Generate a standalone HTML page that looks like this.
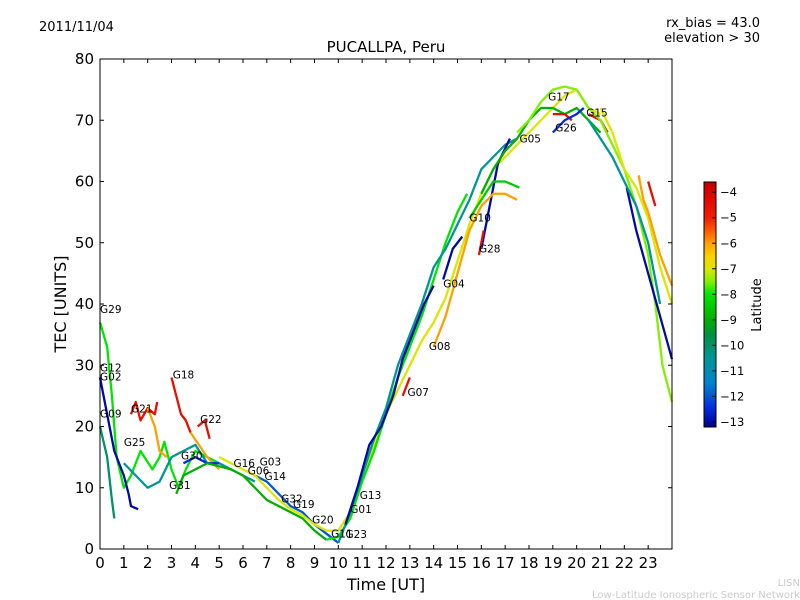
<!DOCTYPE html>
<html><head><meta charset="utf-8"><style>
body{margin:0;background:#fff;font-family:"DejaVu Sans","Liberation Sans",sans-serif}
svg{display:block}
</style></head><body>
<svg id="c" width="800" height="600" xmlns="http://www.w3.org/2000/svg">
<text x="39" y="31" font-size="13">2011/11/04</text>
<text x="760" y="27" font-size="13" text-anchor="end">rx_bias = 43.0</text>
<text x="760" y="42" font-size="13" text-anchor="end">elevation &gt; 30</text>
<text x="386" y="52" font-size="15" text-anchor="middle">PUCALLPA, Peru</text>
<text x="386" y="590" font-size="16" text-anchor="middle">Time [UT]</text>
<text x="66" y="304" font-size="16" text-anchor="middle" transform="rotate(-90 66 304)">TEC [UNITS]</text>
<text x="800" y="586" font-size="10" fill="#ccc" text-anchor="end">LISN</text>
<text x="800" y="598" font-size="10" fill="#ccc" text-anchor="end">Low-Latitude Ionospheric Sensor Network</text>
<g id="plot"></g>
<g id="ax"></g>
<g id="cb"></g>
</svg>
<script>
const xTicks=[0,1,2,3,4,5,6,7,8,9,10,11,12,13,14,15,16,17,18,19,20,21,22,23];
const yTicks=[0,10,20,30,40,50,60,70,80];
const cbTicks=[-4,-5,-6,-7,-8,-9,-10,-11,-12,-13];
const segLats=[-8,-13,-10,-10.5,-4.5,-6,-4.5,-6,-4.5,-12.5,-9,-12,-7,-8,-10.5,-13,-13,-13,-4.5,-6,-4.5,-8.5,-9,-4.5,-12.5,-4.5,-7.5,-7,-13,-10.5,-6,-4.5];
const segPts=[
[[0,37],[0.3,33],[0.5,25],[0.7,15],[1,10],[1.3,12],[1.7,16],[2.2,13],[2.5,15],[2.7,17.5],[3,13],[3.3,10],[3.6,13],[4,16],[4.5,15],[5,14]],
[[0,28],[0.3,22],[0.6,16],[1,12],[1.2,9],[1.3,7],[1.6,6.5]],
[[0,20],[0.3,15],[0.5,8],[0.6,5]],
[[1,14],[1.5,12],[2,10],[2.5,11],[3,15],[3.5,16],[4,17],[4.5,14],[5,14],[5.5,13],[6,12],[6.5,11]],
[[1.3,22],[1.5,24],[1.7,21],[2,23],[2.3,22],[2.4,24]],
[[2,23],[2.3,20],[2.5,16],[2.8,15]],
[[3,28],[3.2,25],[3.4,22],[3.6,21],[3.8,19]],
[[3.8,19],[4.5,15],[5,13]],
[[4.1,20],[4.4,21],[4.6,18]],
[[3.5,14],[4,15],[4.5,14],[5,14]],
[[3.2,9],[3.5,12],[4,13],[4.5,14],[5,13.5],[5.5,13],[6,12],[6.5,10],[7,8],[7.5,7],[8,6],[8.5,5],[9,3],[9.5,1.5]],
[[6.5,12],[7,11],[7.5,9],[8,7],[8.5,6],[9,4],[9.5,2.5],[10,1]],
[[5,15],[5.5,14],[6,13],[6.5,12],[7,10],[7.5,8],[8,6.5],[8.5,5.5],[9,4],[9.5,3],[10,3],[10.5,6],[11,12],[11.5,17],[12,22],[12.5,26],[13,30],[13.5,34],[14,37],[14.5,41],[15,47],[15.5,53],[16,58],[16.5,62],[17,64],[17.5,66],[18,68],[18.5,70],[19,72],[19.5,74],[20,75],[20.5,72],[21,71]],
[[9.5,1.5],[10,2],[10.5,5],[11,11],[11.5,16],[12,22],[12.5,28],[13,33],[13.5,38],[14,44],[14.5,50],[15,55],[15.4,58]],
[[10,1],[10.5,6],[11,12],[11.5,18],[12,23],[12.5,30],[13,35],[13.5,40],[14,46],[14.5,49],[15,53],[15.5,57],[16,62],[16.5,64],[17,66],[17.5,67]],
[[10.3,4],[10.8,10],[11.3,17],[11.8,20],[12.3,25],[12.7,31],[13.2,36],[13.6,40],[14,43]],
[[14.4,44],[14.8,49],[15.2,51]],
[[16,49],[16.3,55],[16.7,63],[17.2,67]],
[[15.9,48],[16.1,52]],
[[14,33],[14.5,38],[15,45],[15.5,52],[16,56],[16.5,58],[17,58],[17.5,57]],
[[12.7,25],[13,28]],
[[15.5,54],[16,57],[16.5,60],[17,60],[17.6,59]],
[[16,58],[16.5,62],[17,65],[17.5,67],[18,70],[18.5,72],[19,72],[19.5,71],[20,72],[20.5,70],[21,68]],
[[19,71],[19.5,71],[19.8,70]],
[[19,68],[19.5,70],[20,71],[20.3,72]],
[[20.5,71],[21,70],[21.3,68]],
[[17.5,68],[18,70],[18.5,73],[19,75],[19.5,75.5],[20,75],[20.5,72],[21,70],[21.5,66],[22,62],[22.5,56],[23,48],[23.3,40],[23.6,30],[24,24]],
[[21,72],[21.5,68],[22,62],[22.5,59],[23,54],[23.5,46],[24,40]],
[[22.1,59],[22.5,52],[23,45],[23.5,38],[24,31]],
[[20.5,70],[21,67],[21.5,64],[22,60],[22.5,56],[23,50],[23.5,40]],
[[22.6,61],[22.8,57],[23,55],[23.5,48],[24,43]],
[[23,60],[23.3,56]]];
const labelNames=["G29","G12","G02","G09","G21","G25","G18","G22","G30","G31","G16","G06","G03","G14","G32","G19","G20","G11","G23","G01","G13","G07","G08","G04","G10","G28","G05","G17","G26","G15"];
const labelT=[0,0,0,0,1.3,1.0,3.05,4.2,3.4,2.9,5.6,6.2,6.7,6.9,7.6,8.1,8.9,9.7,10.3,10.5,10.9,12.9,13.8,14.4,15.5,15.9,17.6,18.8,19.1,20.4];
const labelV=[38.5,29,27.5,21.5,22.3,16.8,27.8,20.6,14.6,9.8,13.4,12.2,13.6,11.3,7.6,6.7,4.2,1.9,1.8,5.9,8.2,25,32.5,42.7,53.5,48.4,66.4,73.2,68.2,70.6];

const X0=100,X1=672,Y0=549,Y1=59;
const sx=t=>X0+(X1-X0)*t/24, sy=v=>Y0-(Y0-Y1)*v/80;
const CB0=-13.2,CB1=-3.6,CBY0=427,CBY1=182;
const cy=l=>CBY0-(CBY0-CBY1)*(l-CB0)/(CB1-CB0);
const stops=[[-13.2,[0,0,140]],[-12.5,[0,40,220]],[-11.5,[0,130,210]],[-10.5,[0,150,150]],[-9.6,[0,145,70]],[-9,[0,175,0]],[-8,[0,230,0]],[-7.5,[130,240,0]],[-7,[220,230,0]],[-6.5,[250,210,0]],[-6,[255,160,0]],[-5.5,[255,90,0]],[-5,[240,30,0]],[-4,[220,0,0]],[-3.6,[190,0,0]]];
function col(l){if(l<=stops[0][0])return`rgb(${stops[0][1]})`;for(let i=1;i<stops.length;i++){if(l<=stops[i][0]){const a=stops[i-1],b=stops[i],f=(l-a[0])/(b[0]-a[0]);return'rgb('+a[1].map((v,k)=>Math.round(v+(b[1][k]-v)*f)).join(',')+')';}}return`rgb(${stops[stops.length-1][1]})`;}
const NS="http://www.w3.org/2000/svg";
function mk(p,tag,a){const e=document.createElementNS(NS,tag);for(const k in a)e.setAttribute(k,a[k]);p.appendChild(e);return e;}
const plot=document.getElementById('plot'),ax=document.getElementById('ax'),cb=document.getElementById('cb');
segPts.forEach((pts,i)=>{
 const e=mk(plot,'polyline',{points:pts.map(p=>sx(p[0])+','+sy(p[1])).join(' '),fill:'none',stroke:col(segLats[i]),'stroke-width':2.3,'stroke-linejoin':'round'});
 
 
});
labelNames.forEach((n,i)=>{
 const e=mk(plot,'text',{x:sx(labelT[i]),y:sy(labelV[i]),'font-size':10.5});
 e.textContent=n;
 
 
});
const fr=mk(ax,'rect',{x:X0,y:Y1,width:X1-X0,height:Y0-Y1,fill:'none',stroke:'#000'});


xTicks.forEach(t=>{
 mk(ax,'line',{x1:sx(t),x2:sx(t),y1:Y0,y2:Y0-4,stroke:'#000'});
 mk(ax,'line',{x1:sx(t),x2:sx(t),y1:Y1,y2:Y1+4,stroke:'#000'});
 const e=mk(ax,'text',{x:sx(t),y:Y0+19,'font-size':15,'text-anchor':'middle'});
 e.textContent=t;
 
 
});
yTicks.forEach(v=>{
 mk(ax,'line',{x1:X0,x2:X0+4,y1:sy(v),y2:sy(v),stroke:'#000'});
 mk(ax,'line',{x1:X1,x2:X1-4,y1:sy(v),y2:sy(v),stroke:'#000'});
 const e=mk(ax,'text',{x:X0-6,y:sy(v)+5,'font-size':15,'text-anchor':'end'});
 e.textContent=v;
 
 
});
for(let y=CBY1;y<CBY0;y++){mk(cb,'rect',{x:704,y:y,width:12,height:1.2,fill:col(CB0+(CB1-CB0)*(CBY0-y-0.5)/(CBY0-CBY1))});}
mk(cb,'rect',{x:704,y:CBY1,width:12,height:CBY0-CBY1,fill:'none',stroke:'#000'});
cbTicks.forEach(l=>{
 mk(cb,'line',{x1:712,x2:716,y1:cy(l),y2:cy(l),stroke:'#000'});
 const e=mk(cb,'text',{x:720,y:cy(l)+4,'font-size':11.5});
 e.textContent='\u2212'+Math.abs(l);
 
 
});
const cl=mk(cb,'text',{x:761,y:305,'font-size':13,'text-anchor':'middle',transform:'rotate(-90 761 305)'});
cl.textContent='Latitude';


</script>
</body></html>
